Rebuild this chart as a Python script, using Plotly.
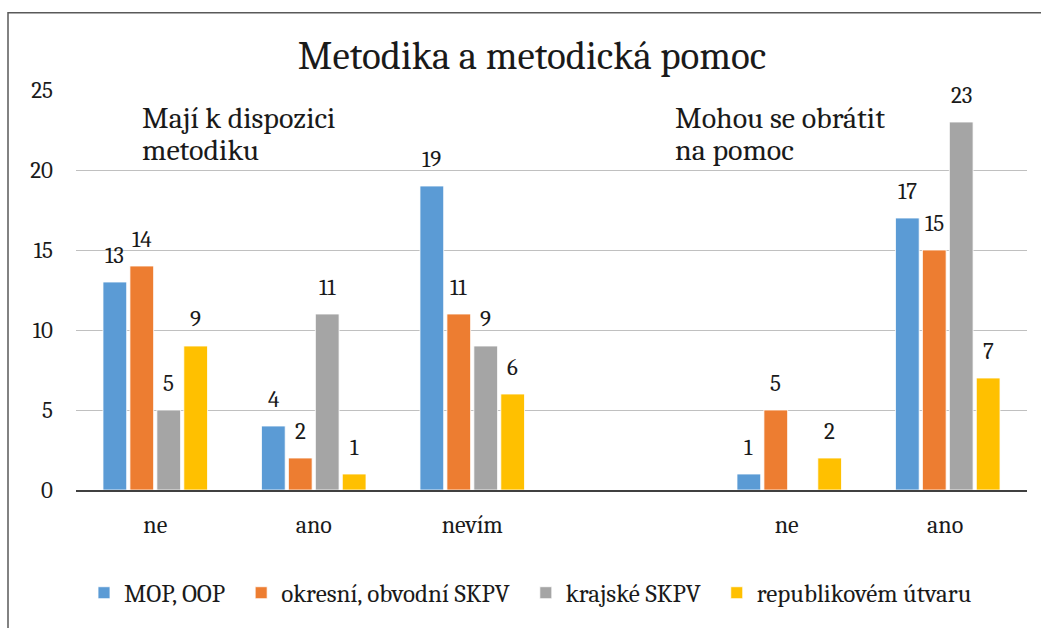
import plotly.graph_objects as go

categories = ["ne", "ano", "nevím", "", "ne ", "ano "]
series_names = ["MOP, OOP", "okresní, obvodní SKPV", "krajské SKPV", "republikovém útvaru"]
mop_oop = [13, 4, 19, None, 1, 17]
okresni = [14, 2, 11, None, 5, 15]
krajske = [5, 11, 9, None, None, 23]
republikove = [9, 1, 6, None, 2, 7]
colors = ["#5B9BD5", "#ED7D31", "#A5A5A5", "#FFC000"]
y_ticks = [0, 5, 10, 15, 20, 25]
left_note = ["Mají k dispozici", "metodiku"]
right_note = ["Mohou se obrátit", "na pomoc"]

FONT = "Cambria, Caladea, 'DejaVu Serif', serif"
TXT = "#1a1a1a"

L, R, T, B = 76, 14, 90, 134
W, H = 1041, 628
PW = W - L - R
PH = H - T - B
BARGAP = 0.32
slot = PW / len(categories) * (1 - BARGAP) / 4

fig = go.Figure()
all_series = [mop_oop, okresni, krajske, republikove]
for name, vals, col in zip(series_names, all_series, colors):
    fig.add_trace(go.Bar(
        x=categories, y=vals, name=name + "\u00a0\u00a0",
        marker=dict(color=col, line=dict(color="white", width=0.8)),
    ))

# data labels, anchored at each bar's value
for i, vals in enumerate(all_series):
    for c, v in zip(categories, vals):
        if v is None:
            continue
        fig.add_annotation(x=c, y=v, text=str(v), showarrow=False,
                           xanchor="center", yanchor="bottom",
                           xshift=(i - 1.5) * slot, yshift=11,
                           font=dict(family=FONT, size=23, color=TXT))

fig.update_layout(
    width=W, height=H,
    margin=dict(l=L, r=R, t=T, b=B),
    paper_bgcolor="white", plot_bgcolor="white",
    barmode="group", bargap=BARGAP, bargroupgap=0.12,
    font=dict(family=FONT, color=TXT),
    title=dict(text="Metodika a metodická pomoc", x=532 / W, xanchor="center",
               y=1 - 55 / H, yanchor="middle",
               font=dict(family=FONT, size=39, color=TXT)),
    showlegend=True,
    legend=dict(orientation="h", x=(536 - L) / PW, xref="paper", xanchor="center",
                y=(494 - 598) / PH, yanchor="middle",
                font=dict(family=FONT, size=25, color=TXT),
                itemwidth=30, traceorder="normal"),
)
fig.update_xaxes(
    type="category", showline=True, linecolor="#404040", linewidth=1.5,
    ticks="", tickfont=dict(family=FONT, size=24, color=TXT),
    ticklabelstandoff=12, showgrid=False,
)
fig.update_yaxes(
    range=[0, 25], tickvals=y_ticks, showgrid=True, gridcolor="#c0c0c0", gridwidth=1.2,
    zeroline=False, showline=False, ticks="",
    tickfont=dict(family=FONT, size=23, color=TXT), ticklabelstandoff=22,
)

for note, xpix in [(left_note, 140), (right_note, 673)]:
    for k, line in enumerate(note):
        center = 119 + 32 * k
        fig.add_annotation(text=line, xref="paper", yref="paper",
                           x=(xpix - L) / PW, y=(494 - center) / PH,
                           xanchor="left", yanchor="middle",
                           align="left", showarrow=False,
                           font=dict(family=FONT, size=30, color=TXT))

fig.add_shape(type="rect", xref="paper", yref="paper",
              x0=(8 - L) / PW, x1=(1060 - L) / PW,
              y0=(494 - 660) / PH, y1=(494 - 12) / PH,
              line=dict(color="#595959", width=1.5), layer="below")

fig.write_html("out.html", config={"displayModeBar": False},
               post_script="document.body.style.margin='0';")
